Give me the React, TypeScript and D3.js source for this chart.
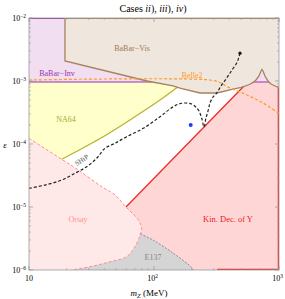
import * as d3 from "d3";
import React from "react";

// boundaries, as [m (MeV), epsilon]
const babarVis: [number, number][] = [
  [19.4, 1e-2], [19.4, 2.08e-3], [87.9, 1e-3], [141.9, 8.34e-4], [161.4, 7.74e-4],
  [233.4, 6.45e-4], [319, 6.45e-4], [428.5, 7.46e-4], [500, 7.9e-4], [580, 8.8e-4],
  [620, 9.5e-4], [654.6, 1.037e-3], [691.8, 1.2e-3], [717.8, 1.442e-3], [731, 1.524e-3],
  [744.7, 1.442e-3], [772.7, 1.2e-3], [816.6, 1e-3], [863, 8.96e-4], [946, 8.19e-4], [1000, 7.9e-4],
];
const babarInvEps = 9.64e-4;
const kinLine: [number, number][] = [[59.7, 1e-5], [520, 8.2e-4]];
const na64: [number, number][] = [
  [152.8, 7.88e-4], [111.7, 4.99e-4], [67.9, 2.59e-4], [37.0, 1.222e-4], [18.27, 5.72e-5],
];
const orsay: [number, number][] = [
  [10, 1.23e-4], [18.27, 5.72e-5], [24.8, 3.86e-5], [38.2, 2.1e-5], [48.75, 1.55e-5],
  [59.7, 1e-5], [74.9, 6.22e-6], [79.7, 4.59e-6], [78.0, 3.73e-6], [70.5, 2.35e-6],
  [60.5, 1.63e-6], [44.5, 1.35e-6], [30.8, 1.13e-6], [21.9, 1e-6],
];
const e137: [number, number][] = [
  [78.0, 3.73e-6], [98.2, 2.99e-6], [141.9, 1.86e-6], [201.4, 1.08e-6], [205, 1e-6],
];
const belle2: [number, number][] = [
  [10, 1.037e-3], [280.5, 1.037e-3], [337.3, 9.46e-4], [383.7, 8.13e-4], [554.6, 6.0e-4],
  [744.7, 4.48e-4], [1000, 3.05e-4],
];
const ship: [number, number][] = [
  [10, 1.98e-5], [13.43, 2.23e-5], [18.27, 2.68e-5], [23.33, 3.43e-5], [28.94, 4.36e-5],
  [34.8, 5.93e-5], [40.55, 8.55e-5], [48.75, 1.026e-4], [60.47, 1.306e-4], [82.1, 1.775e-4],
  [111.7, 2.71e-4], [142.7, 3.91e-4], [166.6, 4.43e-4], [200.3, 4.31e-4], [226.1, 3.47e-4],
  [240.8, 2.56e-4], [251.2, 1.862e-4], [260.6, 2.59e-4], [271.9, 3.47e-4], [280.5, 4.48e-4],
  [296.5, 5.57e-4], [317.5, 6.45e-4], [343.6, 8.34e-4], [381.6, 1.116e-3], [420.7, 1.496e-3],
  [458.7, 1.93e-3], [478.6, 2.41e-3], [487.5, 2.76e-3],
];
const benchmark: [number, number] = [196.6, 2.0e-4];

const xMajor = [10, 100, 1000];
const xMajorExp = ["", "2", "3"];
const yMajor = [1e-2, 1e-3, 1e-4, 1e-5, 1e-6];
const yMajorExp = ["−2", "−3", "−4", "−5", "−6"];

const W = 285, H = 299;
const L = 29, R = 279, T = 18, B = 270;
const serif = "'Liberation Serif', 'DejaVu Serif', serif";

const App: React.FC = () => {
  const x = d3.scaleLog().domain([10, 1000]).range([L, R]);
  const y = d3.scaleLog().domain([1e-6, 1e-2]).range([B, T]);
  const lin = d3.line<[number, number]>().x(d => x(d[0])).y(d => y(d[1]));
  const smooth = d3.line<[number, number]>().x(d => x(d[0])).y(d => y(d[1])).curve(d3.curveCatmullRom.alpha(0.5));

  const kinFill = lin([kinLine[0], kinLine[1], [kinLine[1][0], 1e-2], [1000, 1e-2], [1000, 1e-6], [kinLine[0][0], 1e-6]])! + "Z";
  const na64Fill = lin([[10, babarInvEps], [na64[0][0], babarInvEps], ...na64, [10, orsay[0][1]]])! + "Z";
  const invFill = lin([[10, 1e-2], [1000, 1e-2], [1000, babarInvEps], [10, babarInvEps]])! + "Z";
  const visFill = lin([...babarVis, [1000, 1e-2]])! + "Z";
  const e137Fill = smooth(e137)! + `L${x(10)},${y(1e-6)}L${x(10)},${y(e137[0][1])}Z`;
  const orsayFill = smooth(orsay)! + `L${x(10)},${y(1e-6)}Z`;

  const minorX: number[] = [];
  [10, 100].forEach(d => { for (let k = 2; k <= 9; k++) minorX.push(d * k); });
  const minorY: number[] = [];
  [1e-6, 1e-5, 1e-4, 1e-3].forEach(d => { for (let k = 2; k <= 9; k++) minorY.push(d * k); });
  const tc = "#999";

  return (
    <svg width={W} height={H} style={{ position: "absolute", left: 0, top: 0, background: "white" }} fontFamily={serif}>
      <defs>
        <clipPath id="plot"><rect x={L} y={T} width={R - L} height={B - T} /></clipPath>
      </defs>
      <text x={153} y={12} textAnchor="middle" fontSize={10}>
        Cases <tspan fontStyle="italic">ii</tspan>), <tspan fontStyle="italic">iii</tspan>), <tspan fontStyle="italic">iv</tspan>)
      </text>
      <g clipPath="url(#plot)">
        <path d={kinFill} fill="#ffd6d6" />
        <path d={na64Fill} fill="#ffffcc" />
        <path d={invFill} fill="#f1def1" />
        <path d={lin([[10, babarInvEps], [1000, babarInvEps]])!} stroke="#9a2fb0" strokeWidth={1.2} fill="none" />
        <path d={lin([[10, 1e-2], [babarVis[0][0], 1e-2]])!} stroke="#9a2fb0" strokeWidth={2} fill="none" />
        <path d={visFill} fill="#efe6de" />
        <path d={e137Fill} fill="#d5d5d5" />
        <path d={orsayFill} fill="#ffe8e8" />

        <path d={lin(kinLine)!} stroke="#ee2a2a" strokeWidth={1.3} fill="none" />
        <path d={lin([[1000, 8.0e-4], [1000, 1e-6]])!} stroke="#ee2a2a" strokeWidth={2.5} fill="none" />
        <path d={lin([[320, 1e-6], [1000, 1e-6]])!} stroke="#ee2a2a" strokeWidth={2.5} fill="none" />
        <path d={smooth(na64)!} stroke="#b5b32a" strokeWidth={1.2} fill="none" />
        <path d={smooth(orsay)!} stroke="#ff8c8c" strokeWidth={1} strokeDasharray="3,2" fill="none" />
        <path d={smooth(e137)!} stroke="#777" strokeWidth={0.8} strokeDasharray="2,1.5" fill="none" />
        <path d={lin(babarVis)!} stroke="#a7825c" strokeWidth={1.3} fill="none" />
        <path d={lin([[babarVis[0][0], 1e-2], [1000, 1e-2]])!} stroke="#a7825c" strokeWidth={2} fill="none" />
        <path d={smooth(belle2)!} stroke="#ff9a2a" strokeWidth={1.2} strokeDasharray="3,2" fill="none" />
        <path d={smooth(ship)!} stroke="#222" strokeWidth={1.2} strokeDasharray="3,2" fill="none" />
        <circle cx={x(ship[ship.length - 1][0])} cy={y(ship[ship.length - 1][1])} r={1.6} fill="#111" />
        <circle cx={x(benchmark[0])} cy={y(benchmark[1])} r={2} fill="#1a3cff" />
      </g>

      <rect x={L} y={T} width={R - L} height={B - T} fill="none" stroke={tc} strokeWidth={0.8} />
      {xMajor.map(v => (
        <g key={"xm" + v}>
          <line x1={x(v)} x2={x(v)} y1={B} y2={B - 4} stroke={tc} strokeWidth={0.8} />
          <line x1={x(v)} x2={x(v)} y1={T} y2={T + 4} stroke={tc} strokeWidth={0.8} />
        </g>
      ))}
      {minorX.map(v => (
        <g key={"xn" + v}>
          <line x1={x(v)} x2={x(v)} y1={B} y2={B - 2} stroke={tc} strokeWidth={0.6} />
          <line x1={x(v)} x2={x(v)} y1={T} y2={T + 2} stroke={tc} strokeWidth={0.6} />
        </g>
      ))}
      {yMajor.map(v => (
        <g key={"ym" + v}>
          <line x1={L} x2={L + 4} y1={y(v)} y2={y(v)} stroke={tc} strokeWidth={0.8} />
          <line x1={R} x2={R - 4} y1={y(v)} y2={y(v)} stroke={tc} strokeWidth={0.8} />
        </g>
      ))}
      {minorY.map(v => (
        <g key={"yn" + v}>
          <line x1={L} x2={L + 2} y1={y(v)} y2={y(v)} stroke={tc} strokeWidth={0.6} />
          <line x1={R} x2={R - 2} y1={y(v)} y2={y(v)} stroke={tc} strokeWidth={0.6} />
        </g>
      ))}

      {xMajor.map((v, i) => (
        <text key={"xl" + v} x={x(v) + (xMajorExp[i] ? -1.5 : 0)} y={281} textAnchor="middle" fontSize={8}>
          10{xMajorExp[i] && <tspan dy={-3.5} fontSize={5.5}>{xMajorExp[i]}</tspan>}
        </text>
      ))}
      {yMajor.map((v, i) => (
        <text key={"yl" + v} x={26} y={y(v) + 3} textAnchor="end" fontSize={8}>
          10<tspan dy={-3.5} fontSize={5.5}>{yMajorExp[i]}</tspan>
        </text>
      ))}
      <text x={5} y={148} textAnchor="middle" fontSize={9} fontStyle="italic">ε</text>
      <text x={149} y={296} textAnchor="middle" fontSize={9}>
        <tspan fontStyle="italic">m</tspan><tspan fontStyle="italic" fontSize={6.5} dy={1.5}>Z</tspan><tspan dy={-1.5}> (MeV)</tspan>
      </text>

      <text x={132} y={51} textAnchor="middle" fontSize={8} fill="#a07a52">BaBar−Vis</text>
      <text x={57} y={76} textAnchor="middle" fontSize={8} fill="#9a33aa">BaBar−Inv</text>
      <text x={192} y={78} textAnchor="middle" fontSize={8} fill="#ff9a2a">Belle2</text>
      <text x={66} y={122} textAnchor="middle" fontSize={8} fill="#aaa82a">NA64</text>
      <text x={0} y={0} textAnchor="middle" fontSize={7} fill="#555"
        transform="translate(83,162) rotate(-33)">SHiP</text>
      <text x={78} y={222} textAnchor="middle" fontSize={8} fill="#ff9090">Orsay</text>
      <text x={153} y={260} textAnchor="middle" fontSize={8} fill="#888">E137</text>
      <text x={228} y={222} textAnchor="middle" fontSize={8.5} fill="#ee2222">Kin. Dec. of Y</text>
    </svg>
  );
};

export default App;
